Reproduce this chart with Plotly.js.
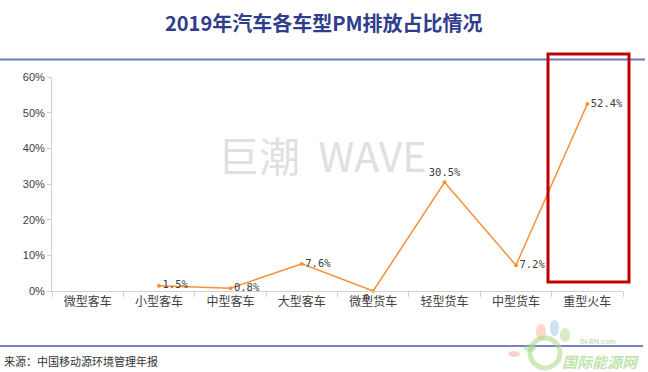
<!DOCTYPE html>
<html>
<head>
<meta charset="utf-8">
<script src="https://cdn.plot.ly/plotly-3.0.1.min.js"></script>
<style>html,body{margin:0;padding:0;background:#fff;}#chart{width:648px;height:372px;}</style>
</head>
<body>
<div id="chart"></div>
<script>
const categories = ['微型客车','小型客车','中型客车','大型客车','微型货车','轻型货车','中型货车','重型火车'];
const shares = [null, 1.5, 0.8, 7.6, 0, 30.5, 7.2, 52.4];
const labels = ['', '1.5%', '0.8%', '7.6%', '0', '30.5%', '7.2%', '52.4%'];
const labelPos = ['middle right','middle right','middle right','middle right','bottom left','top center','middle right','middle right'];
const yTicks = [0, 10, 20, 30, 40, 50, 60];
const titleText = '2019年汽车各车型PM排放占比情况';
const sourceText = '来源：中国移动源环境管理年报';

// pixel -> paper helpers (plot area: x 52..623, y 77..291)
const L = 52, R = 25, T = 77, B = 81, W = 648, H = 372;
const pw = W - L - R, ph = H - T - B;
const px = x => (x - L) / pw;
const py = y => (H - B - y) / ph;

const trace = {
  x: categories, y: shares, text: labels, textposition: labelPos,
  type: 'scatter', mode: 'lines+markers+text', cliponaxis: false,
  line: {color: '#f7923a', width: 1.5},
  marker: {color: '#f7923a', size: 4},
  textfont: {family: 'DejaVu Sans Mono, monospace', size: 10.5, color: '#404040'},
  hoverinfo: 'skip', showlegend: false
};

const layout = {
  width: W, height: H,
  margin: {l: L, r: R, t: T, b: B},
  paper_bgcolor: '#ffffff', plot_bgcolor: '#ffffff',
  font: {family: 'Noto Sans CJK SC, sans-serif', color: '#404040'},
  xaxis: {
    type: 'category', showgrid: false, zeroline: false,
    showline: true, linecolor: '#d0d0d0', linewidth: 1,
    ticks: 'outside', tickson: 'boundaries', ticklen: 5, tickcolor: '#d0d0d0',
    tickfont: {family: 'Noto Sans CJK SC, sans-serif', size: 12, color: '#404040'},
    range: [-0.5, 7.5]
  },
  yaxis: {
    range: [0, 60], tickvals: yTicks, ticktext: yTicks.map(v => v + '%'),
    showgrid: false, zeroline: false,
    showline: true, linecolor: '#d0d0d0', linewidth: 1,
    ticks: 'outside', ticklen: 4, tickcolor: '#d0d0d0',
    tickfont: {family: 'Liberation Sans, Arial, sans-serif', size: 11, color: '#404040'}
  },
  shapes: [
    {type: 'line', xref: 'paper', yref: 'paper', x0: px(0), x1: px(645), y0: py(59.5), y1: py(59.5),
     line: {color: '#6a79b3', width: 2}},
    {type: 'line', xref: 'paper', yref: 'paper', x0: px(0), x1: px(643), y0: py(346), y1: py(346),
     line: {color: '#4a5aa8', width: 1.5}},
    {type: 'rect', xref: 'paper', yref: 'paper', x0: px(548), x1: px(629), y0: py(282), y1: py(54),
     line: {color: '#c00000', width: 3}},
    {type: 'circle', xref: 'paper', yref: 'paper', x0: px(536), x1: px(546), y0: py(340), y1: py(324),
     fillcolor: 'rgba(246,170,120,0.45)', line: {width: 0}},
    {type: 'circle', xref: 'paper', yref: 'paper', x0: px(550), x1: px(559), y0: py(336), y1: py(320),
     fillcolor: 'rgba(140,190,230,0.45)', line: {width: 0}},
    {type: 'circle', xref: 'paper', yref: 'paper', x0: px(560), x1: px(570), y0: py(342), y1: py(328),
     fillcolor: 'rgba(170,210,120,0.45)', line: {width: 0}},
    {type: 'circle', xref: 'paper', yref: 'paper', x0: px(524), x1: px(536), y0: py(352), y1: py(344),
     fillcolor: 'rgba(150,210,150,0.45)', line: {width: 0}},
    {type: 'circle', xref: 'paper', yref: 'paper', x0: px(508), x1: px(520), y0: py(357), y1: py(351),
     fillcolor: 'rgba(240,140,140,0.4)', line: {width: 0}},
    {type: 'circle', xref: 'paper', yref: 'paper', x0: px(530), x1: px(560), y0: py(368), y1: py(338),
     fillcolor: 'rgba(0,0,0,0)', line: {color: 'rgba(170,215,130,0.55)', width: 5}}
  ],
  annotations: [
    {text: titleText, xref: 'paper', yref: 'paper', x: px(324), y: py(22), xanchor: 'center', yanchor: 'middle',
     showarrow: false, font: {family: 'Noto Sans CJK SC, sans-serif', size: 20, color: '#2f3d8c', weight: 'bold'}},
    {text: '巨潮  WAVE', xref: 'paper', yref: 'paper', x: px(322), y: py(154), xanchor: 'center', yanchor: 'middle',
     showarrow: false, font: {family: 'Noto Sans CJK SC, sans-serif', size: 41, color: '#e0e0e0'}},
    {text: sourceText, xref: 'paper', yref: 'paper', x: px(2), y: py(361), xanchor: 'left', yanchor: 'middle',
     showarrow: false, font: {family: 'Noto Sans CJK SC, sans-serif', size: 11, color: '#333333'}},
    {text: 'IN-EN.com', xref: 'paper', yref: 'paper', x: px(578), y: py(341), xanchor: 'left', yanchor: 'middle',
     showarrow: false, font: {family: 'Liberation Sans, sans-serif', size: 7, color: 'rgba(150,210,120,0.6)', weight: 'bold'}},
    {text: '<i>国际能源网</i>', xref: 'paper', yref: 'paper', x: px(560), y: py(361), xanchor: 'left', yanchor: 'middle',
     showarrow: false, font: {family: 'Noto Sans CJK SC, sans-serif', size: 15, color: 'rgba(150,210,120,0.6)', weight: 'bold'}}
  ]
};

Plotly.newPlot('chart', [trace], layout, {staticPlot: true, displayModeBar: false});
</script>
</body>
</html>
